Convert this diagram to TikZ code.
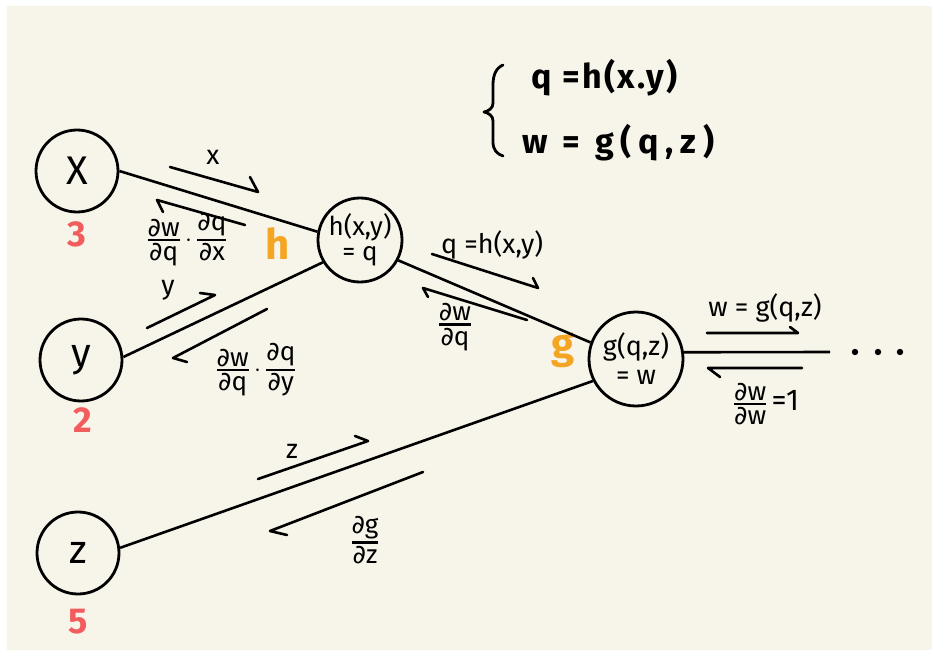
\documentclass[tikz,border=0pt]{standalone}
\usepackage{fontspec}
\setmainfont{Fira Sans}
\newfontfamily\dvfont{DejaVu Sans}
\newcommand{\pd}{{\dvfont ∂}}
\newcommand{\fr}[2]{\ensuremath{{\mbox{#1}\above 2.4pt\mbox{#2}}}}
\newcommand{\fdot}{\ensuremath{\,\cdot\,}}
\newcommand{\fsz}[2]{\fontsize{#1}{#2}\selectfont}
\definecolor{cream}{HTML}{F7F5EA}
\definecolor{numred}{HTML}{F25C5C}
\definecolor{opor}{HTML}{F5A524}
\begin{document}
\begin{tikzpicture}[x=1pt,y=-1pt,
  vc/.style={circle,draw,line width=2.8pt,minimum size=82pt,inner sep=0pt,font=\fsz{40}{40}},
  edge/.style={line width=2.6pt},
  harp/.style={line width=2.6pt,line cap=round,line join=round},
  lab/.style={font=\fsz{27}{28},inner sep=0pt},
  flab/.style={font=\fsz{26}{28},inner sep=0pt},
  num/.style={text=numred,font=\bfseries\fsz{36}{36},inner sep=0pt},
  opn/.style={text=opor,font=\bfseries\fsz{42}{42},inner sep=0pt},
  eq/.style={font=\bfseries\fsz{34}{34},inner sep=0pt}]
\useasboundingbox (0,0) rectangle (932,658);
\fill[white] (0,0) rectangle (932,658);
\fill[cream] (7,6) rectangle (932,650);

% nodes
\node[vc] (x) at (77,171) {X};
\node[vc] (y) at (81,360) {y};
\node[vc] (z) at (78,553) {z};
\node[vc,minimum size=84pt,font=\fsz{26}{25},align=center] (h) at (360,240) {h(x,y)\\= q};
\node[vc,minimum size=94pt,font=\fsz{27}{29},align=center] (g) at (636,359) {g(q,z)\\= w};
\coordinate (gout) at (830,352);

% numbers and operator names
\node[num] (n3) at (77,234) {3};
\node[num] (n2) at (83,420) {2};
\node[num] (n5) at (78,622) {5};
\node[opn] (oh) at (278,244) {h};
\node[opn] (og) at (563,350) {g};

% edges
\draw[edge] (x.0) -- (h.169);
\draw[edge] (y.4) -- (h.211);
\draw[edge] (h.-28) -- (g.160);
\draw[edge] (z.7) -- (g.207);
\draw[edge] (g.8) -- (gout);

% dots
\fill (855,352) circle (3.2pt);
\fill (878,352) circle (3.2pt);
\fill (900,352) circle (3.2pt);

% harpoons
\draw[harp] (170,167) -- (258,192) -- (250,177);
\draw[harp] (245,225) -- (157,200) -- (163,212);
\draw[harp] (147,328) -- (215,295) -- (200,293);
\draw[harp] (267,309) -- (173,358) -- (187,362);
\draw[harp] (432,254) -- (538,288) -- (533,278);
\draw[harp] (527,320) -- (423,288) -- (428,297);
\draw[harp] (707,333) -- (798,333) -- (790,327);
\draw[harp] (802,368) -- (708,368) -- (720,377);
\draw[harp] (258,479) -- (368,441) -- (355,436);
\draw[harp] (423,472) -- (270,531) -- (287,535);

% labels
\node[lab] (lx) at (213,157) {x};
\node[flab] (lgx) at (187,240) {\fr{\pd w}{\pd q}\fdot\fr{\pd q}{\pd x}};
\node[lab] (ly) at (168,290) {y};
\node[flab] (lgy) at (256,370) {\fr{\pd w}{\pd q}\fdot\fr{\pd q}{\pd y}};
\node[lab] (lq) at (492,245) {q =h(x,y)};
\node[flab] (lgq) at (455,327) {\fr{\pd w}{\pd q}};
\node[lab] (lw) at (765,308) {w = g(q,z)};
\node[flab] (lgw) at (766,404) {\fr{\pd w}{\pd w}\,{\fsz{30}{30}=1}};
\node[lab] (lz) at (292,451) {z};
\node[flab] (lgz) at (365,540) {\fr{\pd g}{\pd z}};

% top equations
\draw[line width=2.8pt,line cap=round,line join=round]
  (503,65) .. controls (496,68) and (493,75) .. (493,85)
  -- (493,103) .. controls (493,108) and (489,111) .. (484,112)
  .. controls (489,113) and (493,116) .. (493,121)
  -- (493,142) .. controls (493,150) and (497,154) .. (503,156);
\node[eq,anchor=west] (e1) at (531,78) {\addfontfeature{LetterSpace=7}q =h(x.y)};
\node[eq,anchor=west] (e2) at (522,143) {\addfontfeature{LetterSpace=20}w = g(q,z)};
\end{tikzpicture}
\end{document}
